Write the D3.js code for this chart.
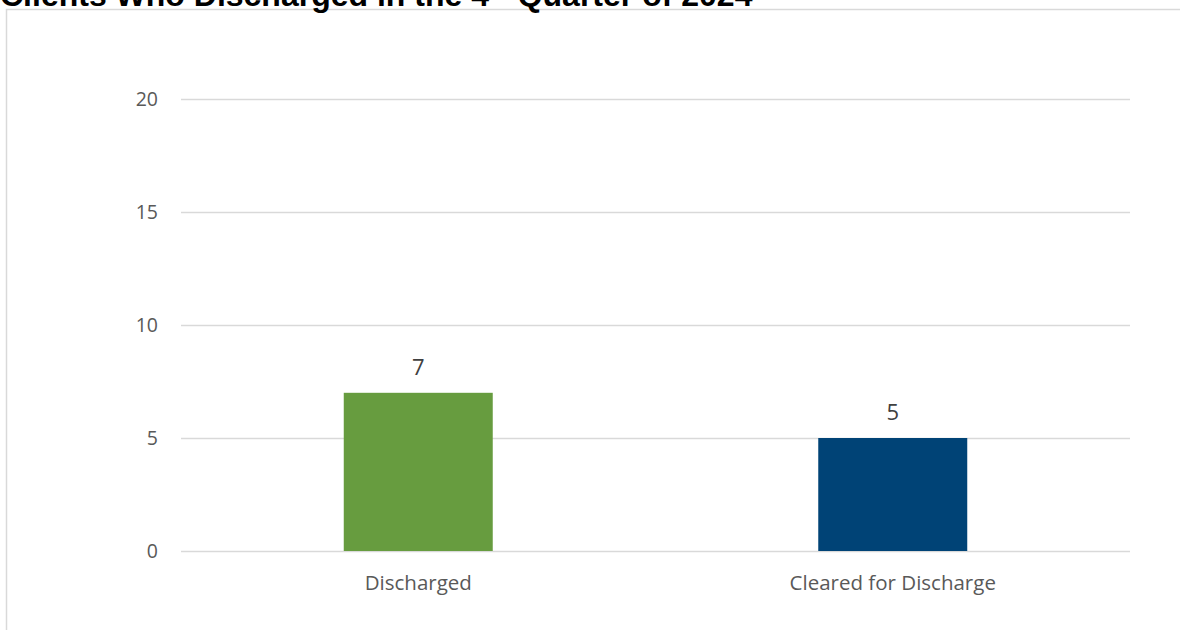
<!DOCTYPE html>
<html>
<head>
<meta charset="utf-8">
<script src="https://cdn.jsdelivr.net/npm/d3@7"></script>
<style>
	body { margin: 0; background: #fff; }
	svg { display: block; }
	.axis-text { font-family: 'Open Sans', sans-serif; fill: #595959; }
</style>
</head>
<body>
<div id="chart"></div>
<script>
const categories = ['Discharged', 'Cleared for Discharge'];
const values = [7, 5];
const barColors = ['#679C3F', '#004376'];
const yTicks = [0, 5, 10, 15, 20];

(() => {
	const W = 1180;
	const H = 630;
	const svg = d3.select('#chart').append('svg')
		.attr('width', W)
		.attr('height', H);

	// chart frame (partly outside the picture)
	svg.append('rect')
		.attr('x', 6.5)
		.attr('y', 9.5)
		.attr('width', 1190)
		.attr('height', 640)
		.style('fill', 'none')
		.style('stroke', '#d9d9d9')
		.style('stroke-width', 1.5);

	// title, cut off at the top edge as in the source
	const title = svg.append('text')
		.attr('x', 0)
		.attr('y', 6)
		.style('font-family', "'Liberation Sans', Arial, sans-serif")
		.style('font-weight', 'bold')
		.style('font-size', '32px')
		.style('fill', '#000');
	title.append('tspan').text('Clients Who Discharged in the 4');
	title.append('tspan').attr('dy', -11).style('font-size', '21px').text('th');
	title.append('tspan').attr('dy', 11).text(' Quarter of 2024');

	const left = 181;
	const right = 1130;
	const x = d3.scaleBand()
		.domain(categories)
		.range([left, right])
		.paddingInner(0.686)
		.paddingOuter(0.343);
	const y = d3.scaleLinear()
		.domain([0, 20])
		.range([551, 99]);

	const yAxis = d3.axisLeft(y)
		.tickValues(yTicks)
		.tickSize(0)
		.tickPadding(0);

	// gridlines
	svg.append('g')
		.selectAll('line')
		.data(yTicks)
		.enter().append('line')
			.attr('x1', left)
			.attr('x2', right)
			.attr('y1', d => y(d) + 0.5)
			.attr('y2', d => y(d) + 0.5)
			.style('stroke', '#d9d9d9')
			.style('stroke-width', 1.5);

	const gy = svg.append('g')
		.attr('transform', 'translate(158, 0)')
		.call(yAxis);
	gy.select('.domain').remove();
	gy.selectAll('text')
		.attr('class', 'axis-text')
		.style('font-size', '19.5px');

	// bars
	svg.append('g')
		.selectAll('rect')
		.data(values)
		.enter().append('rect')
			.attr('x', (d, i) => x(categories[i]))
			.attr('width', x.bandwidth())
			.attr('y', d => y(d))
			.attr('height', d => y(0) - y(d))
			.style('fill', (d, i) => barColors[i]);

	// value labels
	svg.append('g')
		.selectAll('text')
		.data(values)
		.enter().append('text')
			.attr('x', (d, i) => x(categories[i]) + x.bandwidth() / 2)
			.attr('y', d => y(d) - 18)
			.attr('text-anchor', 'middle')
			.style('font-family', "'Open Sans', sans-serif")
			.style('font-size', '22px')
			.style('fill', '#404040')
			.text(d => d);

	// category labels
	const gx = svg.append('g')
		.attr('transform', 'translate(0, 551)')
		.call(d3.axisBottom(x).tickSize(0).tickPadding(0));
	gx.select('.domain').remove();
	gx.selectAll('text')
		.attr('class', 'axis-text')
		.attr('dy', 0)
		.attr('y', 39)
		.style('font-size', '20.5px');
})();
</script>
</body>
</html>
